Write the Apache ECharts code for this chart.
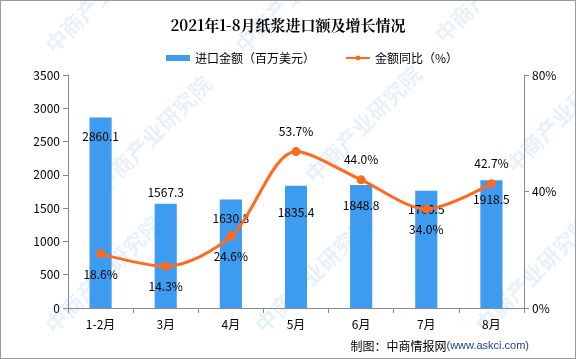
<!DOCTYPE html>
<html><head><meta charset="utf-8">
<script src="https://cdn.jsdelivr.net/npm/echarts@6/dist/echarts.min.js"></script>
<style>html,body{margin:0;padding:0;background:#fff}#c{width:574px;height:357px;border:1px solid #9a9a9a}</style>
</head><body><div id="c"></div>
<script>
const categories = ['1-2月','3月','4月','5月','6月','7月','8月'];
const importValues = [2860.1, 1567.3, 1630.8, 1835.4, 1848.8, 1760.5, 1918.5];
const yoyValues = [18.6, 14.3, 24.6, 53.7, 44.0, 34.0, 42.7];
const leftTicks = [0, 3500, 500];
const rightTicks = [0, 80, 40];

const barLabelPos = [['insideTop',[0,8]],['top',[0,0]],['insideTop',[0,8]],['insideTop',[0,16]],['insideTop',[0,10]],['insideTop',[0,8]],['insideTop',[0,8]]];
const lineLabelPos = ['bottom','bottom','bottom','top','top','bottom','top'];
const font = '"Noto Sans CJK SC", sans-serif';

const chart = echarts.init(document.getElementById('c'));
const wm = [];
const wmPos = [[40,40],[230,40],[430,30],[90,180],[300,170],[500,160],[40,320],[250,320],[470,320]];
wmPos.forEach(p=>wm.push({type:'text',x:p[0],y:p[1],rotation:Math.PI/4,z:-1,silent:true,
  style:{text:'中商产业研究院',fill:'rgba(110,165,215,0.16)',font:'bold 22px "Noto Sans CJK SC"'}}));
chart.setOption({
  animation:false,
  textStyle:{fontFamily:font},
  title:{text:'2021年1-8月纸浆进口额及增长情况',left:'center',top:12,
    textStyle:{fontSize:15,fontWeight:'bold',color:'#000',fontFamily:'"Noto Serif CJK SC","Noto Sans CJK SC",serif'}},
  legend:{top:46,left:160,itemGap:30,itemWidth:24,itemHeight:6,textStyle:{fontSize:12,color:'#000'},
    data:[{name:'进口金额（百万美元）',icon:'rect'},{name:'金额同比（%）'}]},
  grid:{left:67,right:51,top:74,bottom:50},
  graphic:wm.concat([{type:'text',right:46,bottom:6,style:{rich:{a:{fontSize:12,fill:'#000',fontFamily:font},b:{fontSize:11,fill:'#1f3f8f',fontFamily:'"Liberation Sans",sans-serif'}},text:'{a|制图：中商情报网}{b|(www.askci.com)}'}}]),
  xAxis:{type:'category',data:categories,
    axisLine:{lineStyle:{color:'#8a8a8a'}},
    axisTick:{show:true,length:5,lineStyle:{color:'#8a8a8a'}},
    axisLabel:{color:'#000',fontSize:12,margin:10}},
  yAxis:[
    {type:'value',min:leftTicks[0],max:leftTicks[1],interval:leftTicks[2],splitLine:{show:false},
      axisLine:{show:true,lineStyle:{color:'#8a8a8a'}},axisTick:{show:true,length:5,lineStyle:{color:'#8a8a8a'}},
      axisLabel:{color:'#000',fontSize:12,margin:8,formatter:v=>String(v)}},
    {type:'value',min:rightTicks[0],max:rightTicks[1],interval:rightTicks[2],splitLine:{show:false},
      axisLine:{show:true,lineStyle:{color:'#8a8a8a'}},axisTick:{show:true,length:5,lineStyle:{color:'#8a8a8a'}},
      axisLabel:{color:'#000',fontSize:12,margin:8,formatter:v=>v+'%'}}
  ],
  series:[
    {name:'进口金额（百万美元）',type:'bar',barWidth:'34%',itemStyle:{color:'#3d9cf0'},
      data:importValues.map((v,i)=>({value:v,label:{show:true,position:barLabelPos[i][0],offset:barLabelPos[i][1]}})),
      label:{color:'#000',fontSize:12,formatter:p=>p.value.toFixed(1)}},
    {name:'金额同比（%）',type:'line',yAxisIndex:1,smooth:0.3,symbol:'circle',symbolSize:9,
      lineStyle:{color:'#ff6a1f',width:3},itemStyle:{color:'#ff6a1f'},
      data:yoyValues.map((v,i)=>({value:v,label:{show:true,position:lineLabelPos[i],distance:10}})),
      label:{color:'#000',fontSize:12,formatter:p=>p.value.toFixed(1)+'%'}}
  ]
});
</script></body></html>
